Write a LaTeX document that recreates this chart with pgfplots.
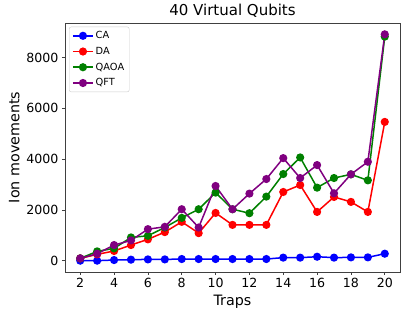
\documentclass[border=0pt]{standalone}
\usepackage{fontspec}
\setmainfont{DejaVu Sans}
\usepackage{pgfplots}
\pgfplotsset{compat=1.18}
\definecolor{mplgreen}{RGB}{0,128,0}
\definecolor{mplpurple}{RGB}{128,0,128}
\begin{document}
\begin{tikzpicture}[x=1pt,y=1pt]
\useasboundingbox (0,0) rectangle (407,318);
\begin{axis}[
  at={(65pt,46pt)}, anchor=south west,
  scale only axis, width=335pt, height=249pt,
  xmin=1.1, xmax=20.9, ymin=-446, ymax=9361,
  xtick={2,4,...,20}, ytick={0,2000,...,8000},
  scaled y ticks=false,
  /pgf/number format/assume math mode=true,
  yticklabel style={/pgf/number format/set thousands separator={}},
  tick label style={font=\fontsize{12.6}{14}\selectfont},
  tick align=outside, major tick length=3pt,
  xtick pos=bottom, ytick pos=left,
  axis line style={black!75, line width=0.8pt},
  every tick/.style={black!75, line width=0.7pt},
  xlabel={Traps}, ylabel={Ion movements},
  label style={font=\fontsize{14.3}{16}\selectfont},
  title={40 Virtual Qubits},
  title style={font=\fontsize{15}{17}\selectfont, yshift=-4pt},
  legend style={font=\fontsize{9.8}{11}\selectfont, draw=black!20, rounded corners=2pt, inner xsep=3pt, inner ysep=2.5pt, row sep=3pt, at={(0.012,0.985)}, anchor=north west},
  legend image code/.code={\draw[mark repeat=2,mark phase=2,#1] plot coordinates {(0pt,0pt)(10pt,0pt)(20pt,0pt)};},
  legend cell align=left,
  every axis plot/.append style={line width=1.5pt, mark=*, mark size=3.3pt},
]
\addplot[blue, mark options={fill=blue}] coordinates {(2,0)(3,0)(4,25)(5,40)(6,50)(7,50)(8,65)(9,65)(10,65)(11,65)(12,65)(13,65)(14,120)(15,120)(16,155)(17,120)(18,130)(19,130)(20,275)};
\addlegendentry{CA}
\addplot[red, mark options={fill=red}] coordinates {(2,90)(3,250)(4,380)(5,615)(6,840)(7,1125)(8,1530)(9,1085)(10,1880)(11,1410)(12,1410)(13,1410)(14,2705)(15,2980)(16,1920)(17,2510)(18,2315)(19,1920)(20,5465)};
\addlegendentry{DA}
\addplot[mplgreen, mark options={fill=mplgreen}] coordinates {(2,90)(3,366)(4,484)(5,915)(6,980)(7,1307)(8,1686)(9,2026)(10,2680)(11,2026)(12,1870)(13,2523)(14,3412)(15,4065)(16,2876)(17,3255)(18,3400)(19,3163)(20,8824)};
\addlegendentry{QAOA}
\addplot[mplpurple, mark options={fill=mplpurple}] coordinates {(2,90)(3,275)(4,615)(5,797)(6,1242)(7,1333)(8,2026)(9,1307)(10,2941)(11,2026)(12,2641)(13,3216)(14,4039)(15,3255)(16,3765)(17,2654)(18,3400)(19,3895)(20,8915)};
\addlegendentry{QFT}
\end{axis}
\end{tikzpicture}
\end{document}
